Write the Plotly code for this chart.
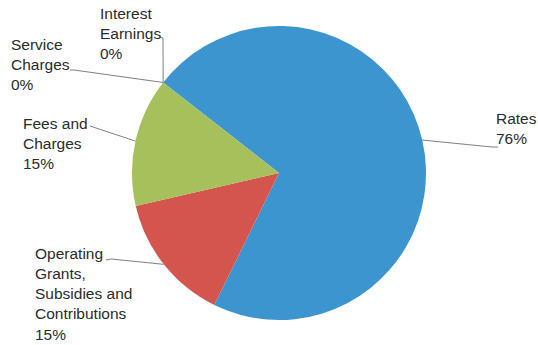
import math
import plotly.graph_objects as go

# Revenue sources, listed in clockwise slice order
categories = ["Rates", "Operating Grants, Subsidies and Contributions",
              "Fees and Charges", "Service Charges", "Interest Earnings"]
values = [76, 15, 15, 0, 0]
label_lines = [
    ["Rates"],
    ["Operating", "Grants,", "Subsidies and", "Contributions"],
    ["Fees and", "Charges"],
    ["Service", "Charges"],
    ["Interest", "Earnings"],
]
colors = ["#3d95cf", "#d4554e", "#a6c05c", "#8064a2", "#4bacc6"]

W, H = 538, 345
CX, CY, R = 279, 173, 147          # pie centre and radius in pixels
START_ANGLE = 308                   # first slice starts here (clockwise from 12 o'clock)

# label block placement: (x px, anchor, middle y px), leader-line tail points
label_pos = [(538, "right", 128), (34, "left", 294), (22, "left", 143),
             (10, "left", 65), (99, "left", 33)]
leader_tail = [
    [(498, 147), (492, 147)],
    [(106, 260), (111, 259)],
    [(90, 126), (93, 127)],
    [(70, 70), (74, 70)],
    [(160, 37), (163, 38)],
]

fig = go.Figure(go.Pie(
    labels=categories,
    values=values,
    sort=False,
    direction="clockwise",
    rotation=START_ANGLE - 360,
    marker=dict(colors=colors, line=dict(width=0)),
    textinfo="none",
    hoverinfo="label+value",
    domain=dict(x=[(CX - R) / W, (CX + R) / W],
                y=[(H - CY - R) / H, (H - CY + R) / H]),
))


def px_to_paper(x, y):
    return x / W, 1 - y / H


total = sum(values)
angle = START_ANGLE
shapes, annotations = [], []
for i, v in enumerate(values):
    span = 360 * v / total
    mid = math.radians(angle + span / 2)
    angle += span
    tip = (CX + R * math.sin(mid), CY - R * math.cos(mid))
    pts = leader_tail[i] + [tip]
    path = ""
    for j, (x, y) in enumerate(pts):
        px, py = px_to_paper(x, y)
        path += ("M" if j == 0 else " L") + f"{px:.5f},{py:.5f}"
    shapes.append(dict(type="path", xref="paper", yref="paper", path=path,
                       line=dict(color="#808080", width=1)))
    lx_px, anchor, ly_px = label_pos[i]
    lx, ly = px_to_paper(lx_px, ly_px)
    text = "<br>".join(label_lines[i] + [f"{v}%"])
    annotations.append(dict(x=lx, y=ly, xref="paper", yref="paper",
                            xanchor=anchor, yanchor="middle", align="left",
                            borderpad=0, text=text, showarrow=False))

fig.update_layout(
    width=W, height=H,
    margin=dict(l=0, r=0, t=0, b=0),
    paper_bgcolor="white",
    plot_bgcolor="white",
    showlegend=False,
    font=dict(family="Liberation Sans, Arial, sans-serif", size=15.5, color="#2b2b2b"),
    shapes=shapes,
    annotations=annotations,
)

fig.write_html("out.html")
